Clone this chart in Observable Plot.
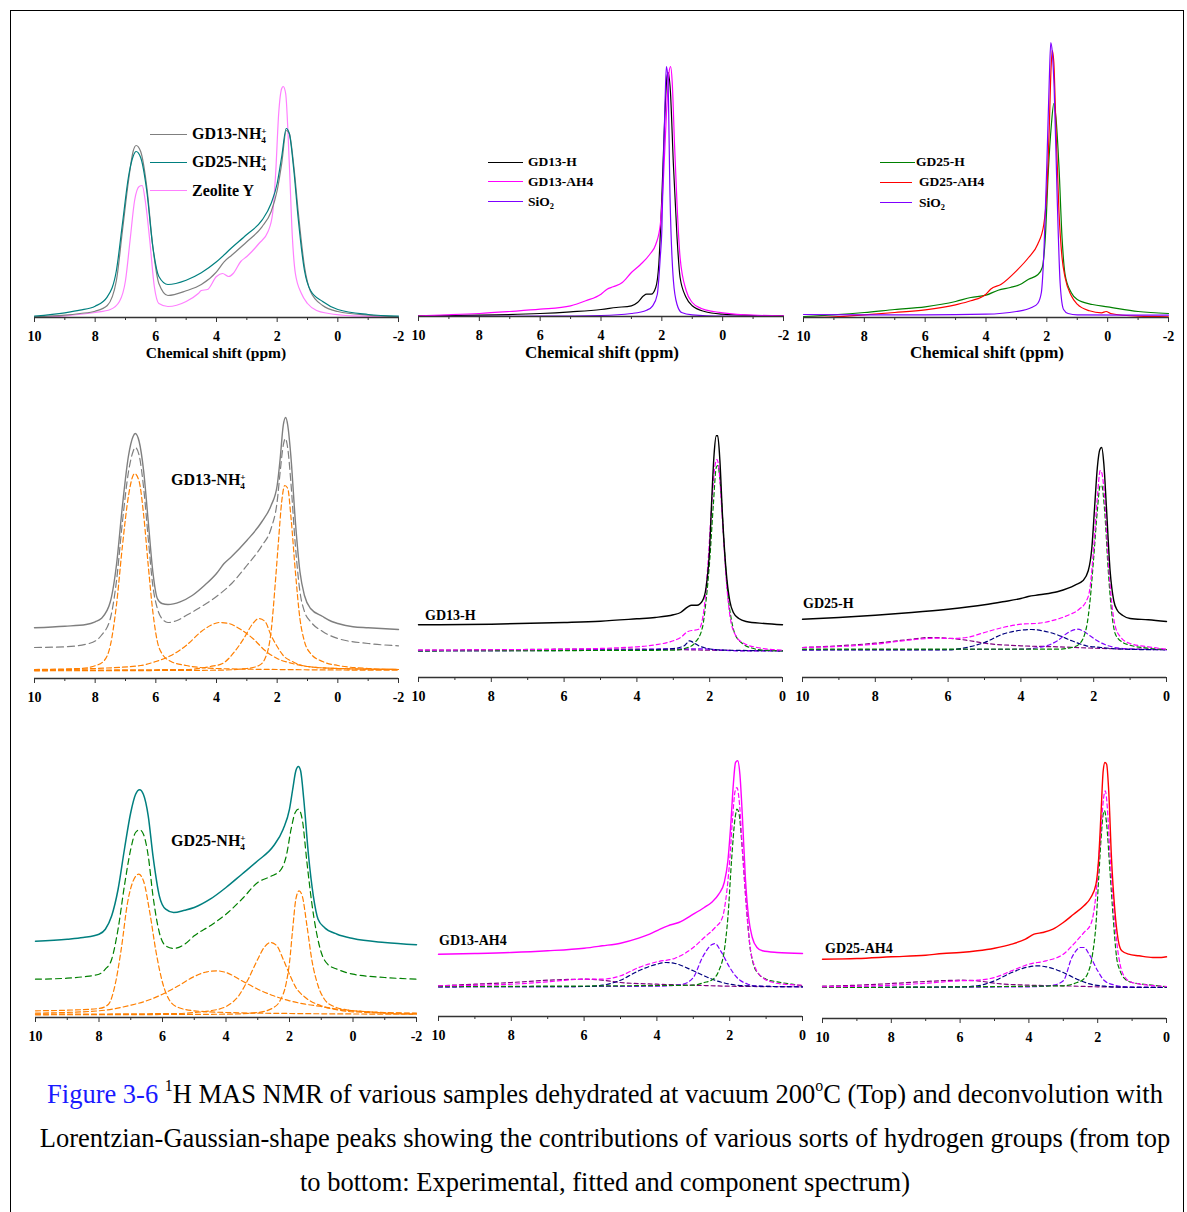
<!DOCTYPE html>
<html><head><meta charset="utf-8">
<script src="https://cdn.jsdelivr.net/npm/d3@7"></script>
<script src="https://cdn.jsdelivr.net/npm/@observablehq/plot@0.6"></script>
<style>
body{margin:0;background:#fff;}
#fig{position:relative;width:1187px;height:1212px;overflow:hidden;font-family:"Liberation Serif","Times New Roman",serif;color:#000;background:#fff;}
#frame{position:absolute;left:10px;top:10px;width:1174px;height:1230px;border:1px solid #000;box-sizing:border-box;}
.lbl{position:absolute;font-weight:bold;white-space:nowrap;line-height:1;transform:translateY(-50%);}
.st{display:inline-block;vertical-align:-0.42em;font-size:0.58em;line-height:1;}
.st>span{display:block;height:0.95em;}
.sb{font-size:0.62em;vertical-align:-0.3em;line-height:0;}
.lg{position:absolute;height:0;}
.ttl{position:absolute;font-weight:bold;white-space:nowrap;transform:translate(-50%,-50%);line-height:1;}
#cap{position:absolute;left:10px;width:1190px;top:1072px;text-align:center;font-size:26.5px;line-height:44px;white-space:nowrap;}
#cap sup{font-size:0.6em;line-height:0;vertical-align:0.75em;}
</style></head>
<body><div id="fig"><div id="frame"></div></div>
<script>
// ---------- data: [chemical shift (ppm), intensity (a.u.)] ----------
// Top row, panel 1
const A_gd13nh4 = [[10,0.7],[9,2.3],[8.5,4],[8,6.3],[7.6,12],[7.3,37],[7.1,87],[6.9,137],[6.75,166],[6.65,172],[6.5,166],[6.3,131],[6.1,71],[5.9,34],[5.6,22],[5,26.7],[4.5,33],[4,45.7],[3.75,55.7],[3.5,62.3],[3,75.7],[2.5,90.7],[2.2,105.7],[2,127],[1.85,154],[1.7,187],[1.6,184],[1.45,151],[1.3,104],[1.1,51],[0.9,26],[0.5,12],[0,6],[-1,2.3],[-2,0.7]];
const A_gd25nh4 = [[10,1.3],[9,4.7],[8.5,7.3],[8,11.3],[7.6,20.7],[7.3,47],[7.1,94],[6.9,141],[6.75,161],[6.65,166],[6.5,160],[6.3,127],[6.1,71],[5.9,41],[5.6,33],[5,37.3],[4.5,44.7],[4,55.7],[3.5,69.7],[3,83],[2.5,97.3],[2.2,114],[2,134],[1.85,161],[1.7,189],[1.6,184],[1.45,147],[1.3,97],[1.1,47],[0.9,27],[0.5,16],[0,8],[-1,3],[-2,1.3]];
const A_zeoliteY = [[10,0],[9,1.7],[8,5],[7.5,8],[7.2,16],[7,37],[6.85,77],[6.7,117],[6.55,131],[6.45,132],[6.35,117],[6.2,77],[6.05,31],[5.9,14],[5.6,11],[5,16],[4.6,24],[4.5,27],[4.3,28],[4,41],[3.8,44],[3.6,41],[3.45,44],[3.2,56],[3,61],[2.6,74],[2.3,86],[2.15,104],[2.05,144],[1.95,204],[1.85,229],[1.8,231],[1.72,224],[1.6,154],[1.5,81],[1.4,44],[1.2,24],[1,14],[0.7,7],[0.3,4],[-0.5,1.7],[-2,0.7]];
// Top row, panel 2
const B_gd13h = [[10,0.7],[8,1.3],[6,3],[5,4.7],[4,7],[3.5,9],[3,10.7],[2.8,14],[2.6,20.7],[2.5,22.3],[2.35,22.3],[2.2,29],[2.1,52],[2,119],[1.9,202],[1.83,240],[1.79,244],[1.72,226],[1.62,152],[1.5,79],[1.4,39],[1.2,19],[1,10.7],[0.6,5],[0,2.3],[-1,1],[-2,0.7]];
const B_gd13ah4 = [[10,0.7],[9,1.7],[8,3],[7,5],[6,7.3],[5,10.7],[4.5,15.7],[4,22.3],[3.8,27.3],[3.6,29.7],[3.3,34],[3,44],[2.7,52],[2.4,62],[2.2,72],[2.05,92],[1.95,136],[1.85,202],[1.76,245],[1.71,250],[1.66,235],[1.58,170],[1.5,112],[1.4,59],[1.2,26],[1,14],[0.7,8],[0.3,5],[0,3.7],[-1,1.3],[-2,0.7]];
const B_sio2 = [[10,0],[6,0.3],[4,1],[3,3],[2.5,6.3],[2.3,10.7],[2.15,22],[2.05,60],[2,86],[1.95,152],[1.89,219],[1.85,250],[1.8,238],[1.73,119],[1.62,36],[1.5,12],[1.35,4],[1,1.7],[0,0.3],[-2,0]];
// Top row, panel 3
const C_gd25h = [[10,1],[9,2.7],[8,5],[7,8],[6,10.7],[5,16],[4.5,20],[4,22.3],[3.6,27.3],[3.2,30],[2.9,32.7],[2.6,38.3],[2.3,42.7],[2.15,50],[2.05,80],[1.95,147],[1.85,193],[1.77,214],[1.7,200],[1.6,150],[1.5,80],[1.4,43],[1.2,25],[1,18],[0.5,13],[0,10.7],[-1,6],[-2,4]];
const C_gd25ah4 = [[10,0],[9,0.7],[8,2.7],[7,5],[6,7.7],[5,12.7],[4.5,16.7],[4,23.3],[3.85,28.3],[3.5,33.3],[3,46.7],[2.6,60],[2.3,73.3],[2.1,93],[2,127],[1.92,190],[1.86,250],[1.82,267],[1.77,255],[1.7,190],[1.6,105],[1.5,60],[1.4,40],[1.2,22],[1,13.3],[0.6,6.7],[0.2,4.7],[0.05,6],[-0.1,4],[-1,1.3],[-2,0.7]];
const C_sio2 = [[10,3],[8,2.7],[6,2.7],[4,3.3],[3,6],[2.5,10],[2.3,14],[2.18,25],[2.09,70],[2,153],[1.92,237],[1.87,275],[1.82,265],[1.76,230],[1.66,120],[1.56,33],[1.45,8],[1.3,4],[1,2.7],[-2,2.3]];
// Middle row, panel 1 (GD13-NH4+)
const D_exp = [[10,50.7],[9,52.3],[8.3,54],[8,56.7],[7.8,60],[7.5,76.7],[7.3,113],[7.1,173],[6.9,223],[6.75,242],[6.68,245],[6.55,237],[6.4,207],[6.25,157],[6.1,107],[5.95,80],[5.8,75],[5.6,74],[5.2,76.7],[4.8,83],[4.4,93],[4,105],[3.75,115],[3.5,122],[3,138],[2.5,157],[2.2,173],[2,193],[1.9,220],[1.8,253],[1.72,261],[1.65,253],[1.55,223],[1.4,157],[1.25,107],[1.1,83],[0.9,70],[0.5,62],[0.2,57],[0,55],[-0.5,51.7],[-1,50.7],[-2,49]];
const D_fit = [[10,31],[9,31.7],[8.2,35],[7.8,43],[7.5,60],[7.3,97],[7.1,157],[6.9,207],[6.75,227],[6.68,231],[6.55,223],[6.4,190],[6.25,140],[6.1,93],[5.95,70],[5.8,60],[5.6,56],[5.3,58],[5,63],[4.6,70],[4,82],[3.5,95],[3,113],[2.5,133],[2.2,150],[2,177],[1.9,207],[1.8,233],[1.73,240],[1.65,230],[1.55,197],[1.4,133],[1.25,87],[1.1,67],[0.9,57],[0.5,47],[0,40],[-1,35],[-2,32.7]];
const D_c1 = [[10,9],[8.5,10],[8,12.7],[7.7,18],[7.5,33],[7.3,73],[7.1,133],[6.9,183],[6.75,203],[6.7,205],[6.55,197],[6.4,163],[6.25,113],[6.1,67],[5.95,37],[5.8,25],[5.5,17],[5,13],[4,10],[2,9],[-2,8.3]];
const D_c2 = [[10,8.3],[8,10],[6.5,13],[6,17],[5.5,23],[5,33],[4.5,47],[4.2,53],[3.9,56],[3.6,55],[3.2,49],[2.8,40],[2.4,28],[2,20],[1.5,15],[1,12],[0,10],[-2,9]];
const D_c3 = [[10,8.3],[5,9],[4.2,12],[3.8,15],[3.4,27],[3.1,40],[2.8,55],[2.6,60],[2.4,57],[2.2,43],[2,32],[1.8,23],[1.5,17],[1,12],[0,10],[-2,9]];
const D_c4 = [[10,7.7],[4,8.3],[3,10],[2.6,13],[2.4,20],[2.2,47],[2.05,100],[1.95,140],[1.85,177],[1.75,193],[1.65,190],[1.55,163],[1.4,107],[1.25,60],[1.1,37],[0.9,25],[0.5,17],[0,13],[-1,10],[-2,9]];
// Middle row, panel 2 (GD13-H)
const E_exp = [[10,52.7],[8,53.3],[6,55],[5,56.3],[4,58.7],[3.5,60],[3,62.7],[2.8,65],[2.6,70.7],[2.5,72.3],[2.35,72.3],[2.2,76.7],[2.1,90],[2,130],[1.95,173],[1.88,223],[1.82,241.7],[1.78,241.7],[1.72,217],[1.65,163],[1.55,107],[1.45,77],[1.35,65],[1.2,59],[1,56],[0.5,54],[0,52.7]];
const E_fit = [[10,27.3],[8,27.7],[6,28.3],[4,30.7],[3.5,32.7],[3,36.7],[2.8,40],[2.6,46],[2.3,48.3],[2.15,70],[2.05,113],[1.95,170],[1.85,213],[1.8,218],[1.75,210],[1.65,157],[1.55,100],[1.45,63],[1.3,43],[1.1,35],[0.7,30],[0,27.3]];
const E_main = [[10,26.7],[3,27.3],[2.6,30],[2.4,35],[2.2,50],[2.1,77],[2,117],[1.9,173],[1.82,210],[1.78,212],[1.7,190],[1.6,130],[1.5,83],[1.4,57],[1.3,43],[1.1,34],[0.8,29],[0.5,27.3],[0,26.7]];
const E_c2 = [[10,26.7],[4,27.3],[3,29],[2.7,31.7],[2.55,36.7],[2.45,35],[2.3,31.7],[2.1,29.3],[1.8,27.7],[1.5,27.3],[0,26.7]];
const E_c3 = [[10,26.7],[6,27.3],[4,28],[3,28.7],[2.2,28.7],[1.8,27.7],[1.2,26.7],[0,26.7]];
const E_c4 = [[10,27.3],[8,27.7],[6,28.3],[4,28.3],[3,28],[2,27.3],[0,26.7]];
// Middle row, panel 3 (GD25-H)
const F_exp = [[10,58.3],[9,60],[8,62.3],[7,65],[6,68.3],[5,72.7],[4.5,75.7],[4,79],[3.8,81],[3.5,82.7],[3,85.7],[2.7,89.3],[2.5,92.7],[2.3,96.7],[2.15,106.7],[2.05,130],[1.97,173],[1.9,210],[1.83,228],[1.78,230],[1.72,213],[1.65,170],[1.55,107],[1.45,77],[1.35,67],[1.2,62],[1,59],[0.5,57.7],[0,56]];
const F_fit = [[10,30],[9,31],[8,33.3],[7,37.7],[6.3,39.3],[6,39],[5.5,40],[5,45],[4.5,50],[4,53.3],[3.5,54.3],[3,58.3],[2.7,62.3],[2.4,68.3],[2.2,76.7],[2.1,90],[2,130],[1.9,180],[1.82,207],[1.78,205],[1.7,180],[1.6,117],[1.5,73],[1.4,50],[1.25,40],[1,34],[0.5,30.7],[0,28.3]];
const F_main = [[10,28.3],[3,28.3],[2.6,30],[2.4,33.3],[2.2,50],[2.1,77],[2,120],[1.9,167],[1.82,192],[1.78,192],[1.7,167],[1.6,107],[1.5,63],[1.4,43],[1.2,35],[1,32.3],[0.5,29.3],[0,28]];
const F_c2 = [[10,27.7],[6,27.7],[5.5,30],[5,35],[4.5,43.3],[4,47.3],[3.7,48],[3.4,46.7],[3,42.7],[2.6,36.7],[2.2,31.7],[1.8,30],[1.2,28.3],[0,27.7]];
const F_c3 = [[10,27.7],[4,28.3],[3.3,31.7],[3,36.7],[2.7,45],[2.45,48.3],[2.3,46.7],[2.1,41.7],[1.9,36.7],[1.6,31.7],[1.2,29],[0,27.7]];
const F_c4 = [[10,30],[9,31.7],[8,34.3],[7,38.3],[6.5,40],[6,39.3],[5.5,37.3],[5,34.3],[4,31.7],[3,30.7],[2,29.3],[0,28]];
// Bottom row, panel 1 (GD25-NH4+)
const G_exp = [[10,76.3],[9,78.3],[8.5,80],[8,83.3],[7.8,88.3],[7.6,101.7],[7.4,128],[7.2,168],[7,205],[6.85,223],[6.72,227.7],[6.6,223],[6.45,201.7],[6.3,161.7],[6.1,121.7],[5.9,108.3],[5.65,105],[5.3,107.3],[5,110],[4.5,118.3],[4,130],[3.5,143.3],[3,156.7],[2.5,171.7],[2.2,188.3],[2,208.3],[1.9,228],[1.8,246.7],[1.72,251],[1.65,246.7],[1.55,218],[1.4,161.7],[1.25,121.7],[1.1,98.3],[0.9,90],[0.5,83.3],[0,79],[-1,75],[-2,72.7]];
const G_fit = [[10,38.3],[9,39.3],[8.5,40.7],[8,43.3],[7.8,48.3],[7.6,58.3],[7.4,88.3],[7.2,131.7],[7,168.3],[6.85,185],[6.72,187.7],[6.6,183.3],[6.45,161.7],[6.3,121.7],[6.1,85],[5.9,71.7],[5.65,69],[5.3,73.3],[5,81.7],[4.5,91.7],[4,103.3],[3.5,118.3],[3,135],[2.6,141],[2.3,146.7],[2.1,161.7],[1.95,188.3],[1.82,205],[1.72,208.3],[1.6,198.3],[1.45,155],[1.3,115],[1.15,85],[1,65],[0.8,53.3],[0.5,48.3],[0,43.3],[-1,40],[-2,38.3]];
const G_c1 = [[10,6.7],[9,7.3],[8,9],[7.7,13.3],[7.5,31.7],[7.3,68.3],[7.1,115],[6.9,138.3],[6.75,143.3],[6.6,136.7],[6.4,105],[6.2,65],[6,35],[5.8,18.3],[5.5,10],[5,6.7],[4,5],[2,4],[-2,3.3]];
const G_c2 = [[10,4.3],[8,6.7],[7,12.3],[6.5,16.7],[6,23.3],[5.5,31.7],[5,41],[4.6,45.7],[4.3,46.7],[4,45],[3.5,36.7],[3,28.3],[2.5,21.7],[2,16.7],[1.5,13.3],[1,11],[0.5,8.3],[0,6.7],[-1,5],[-2,4.3]];
const G_c3 = [[10,3.3],[5.5,4],[5,5],[4.5,6.7],[4,11],[3.6,21.7],[3.3,38.3],[3,58.3],[2.8,70],[2.6,75],[2.4,71.7],[2.2,58.3],[2,43.3],[1.8,30],[1.5,20],[1,11.7],[0.5,7.7],[0,5.7],[-2,4]];
const G_c4 = [[10,2.7],[4,3.3],[3,5],[2.5,10],[2.3,16.7],[2.1,35],[2,55],[1.9,88.3],[1.8,118.3],[1.7,126.7],[1.6,121.7],[1.45,91.7],[1.3,58.3],[1.1,31.7],[0.9,18.3],[0.6,11],[0.2,7.7],[-0.5,5.7],[-1,4.3],[-2,3.3]];
// Bottom row, panel 2 (GD13-AH4)
const H_exp = [[10,62.3],[9,63],[8,64],[7,65.7],[6,68.3],[5.5,70.7],[5,73.3],[4.5,78.3],[4.2,82.3],[3.95,86.7],[3.7,90.7],[3.4,94],[3,102.3],[2.7,109],[2.5,114],[2.3,122.3],[2.15,134],[2.05,155.7],[1.97,192.3],[1.9,232.3],[1.84,254],[1.78,255.7],[1.72,242.3],[1.65,199],[1.57,139],[1.48,99],[1.38,79],[1.25,69],[1.1,65.7],[0.7,64],[0,63]];
const H_fit = [[10,30.7],[8,32.3],[7,34.7],[6,37.3],[5.5,37.3],[5,40.7],[4.5,49],[4,54.7],[3.5,58.3],[3,69],[2.7,79],[2.4,89],[2.2,99],[2.1,119],[2,155.7],[1.92,199],[1.85,225.7],[1.8,229],[1.73,212.3],[1.65,165.7],[1.55,112.3],[1.45,72.3],[1.3,49],[1.1,39],[0.8,34],[0.5,32.3],[0,31.3]];
const H_main = [[10,30],[3,31.3],[2.7,34],[2.5,36.3],[2.3,45.7],[2.15,65.7],[2.05,99],[1.95,155.7],[1.85,199],[1.8,207.3],[1.75,204],[1.65,165.7],[1.55,115.7],[1.45,72.3],[1.35,52.3],[1.2,42.3],[1,37.3],[0.7,34.7],[0.3,32.3],[0,30.7]];
const H_c2 = [[10,29.7],[6,30],[5.5,31.3],[5,36.3],[4.5,45.7],[4,52.3],[3.75,54],[3.5,53],[3,45.7],[2.6,39],[2.2,34],[1.8,31.3],[1.2,30.3],[0,29.7]];
const H_c3 = [[10,29.7],[4,30.3],[3.3,32.3],[3,39],[2.75,59],[2.5,71.7],[2.4,73],[2.25,65.7],[2,49],[1.8,39],[1.5,32.3],[1.2,30.3],[0,29.7]];
const H_c4 = [[10,30.7],[9,32.3],[8,34],[7,36.3],[6,37.3],[5.5,36.3],[5,34],[4,32.3],[3,31.3],[2,30.3],[0,29.7]];
// Bottom row, panel 3 (GD25-AH4)
const I_exp = [[10,59.3],[9,60],[8,61.7],[7,63.3],[6.5,65],[6,66],[5.5,67.7],[5,70.3],[4.5,74.3],[4.1,79.3],[3.85,84.3],[3.6,86],[3.3,89.3],[3,96],[2.7,104.3],[2.4,112.7],[2.2,121],[2.05,134.3],[1.97,161],[1.9,207.7],[1.84,247.7],[1.79,256],[1.74,254.3],[1.68,227.7],[1.6,161],[1.5,107.7],[1.4,77.7],[1.3,67.7],[1.1,64.3],[0.8,62.7],[0.4,61],[0.15,61],[0,61.7]];
const I_fit = [[10,31.7],[8,33.3],[7,35.3],[6,37.7],[5.5,38.3],[5,41],[4.5,47.7],[4,54.3],[3.5,57.7],[3,64.3],[2.7,74.3],[2.4,86],[2.2,94.3],[2.05,124.3],[1.95,167.7],[1.88,201],[1.82,222.7],[1.78,227.7],[1.72,211],[1.65,167.7],[1.55,117.7],[1.45,77.7],[1.35,54.3],[1.2,41],[1,36],[0.5,33.3],[0,32]];
const I_main = [[10,31],[3,32.7],[2.6,36],[2.45,38.3],[2.3,44.3],[2.15,64.3],[2.05,94.3],[1.97,141],[1.9,181],[1.84,204.3],[1.8,207.7],[1.74,194.3],[1.65,151],[1.55,101],[1.45,61],[1.35,47.7],[1.2,39.3],[1,36],[0.5,33.7],[0,31.7]];
const I_c2 = [[10,31],[6,31.7],[5.5,32.7],[5,37.7],[4.5,46],[4,51.7],[3.75,52.7],[3.5,51.7],[3,46],[2.6,39.3],[2.2,34.3],[1.8,32.3],[1.2,31.3],[0,31]];
const I_c3 = [[10,31],[4,31.7],[3.3,33.3],[3,37.7],[2.75,61],[2.5,71],[2.4,71],[2.25,64.3],[2,47.7],[1.8,37.7],[1.5,33.3],[1.2,31.7],[0,31]];
const I_c4 = [[10,32.3],[9,33.3],[8,35],[7,37],[6,38.3],[5.5,37.7],[5,35.3],[4,33.3],[3,32.7],[2,31.7],[0,31]];

// tick values
const ticksFull = [10, 8, 6, 4, 2, 0, -2];
const minorFull = [9, 7, 5, 3, 1, -1];
const ticksHalf = [10, 8, 6, 4, 2, 0];
const minorHalf = [9, 7, 5, 3, 1];

// ---------- drawing ----------
const fig = document.getElementById("fig");
const C = {gray:"#7f7f7f", teal:"#007f7f", pink:"#ff7fff", black:"#000", mag:"#ff00ff", vio:"#7f00ff",
  green:"#008000", red:"#ff0000", orange:"#ff7f00", navy:"#00007f", plum:"#800080"};

function panel(p) {
  const ml = 22, mr = 22, mb = 44;
  const width = (p.x1 - p.x0) + ml + mr;
  const height = p.D + mb;
  const marks = [];
  for (const c of p.curves) {
    marks.push(Plot.line(c.data, {x: d => d[0], y: d => d[1], stroke: c.color,
      strokeWidth: c.w || 1.2, strokeDasharray: c.dash || null, curve: "monotone-x"}));
  }
  marks.push(Plot.ruleY([0], {stroke: "#333", strokeWidth: 1.3}));
  marks.push(Plot.axisX({ticks: p.ticks, tickSize: 5, tickPadding: 9, tickFormat: d => String(d), label: null, stroke: "#333"}));
  marks.push(Plot.axisX({ticks: p.minor, tickSize: 3, tickFormat: () => "", label: null, stroke: "#333"}));
  const svg = Plot.plot({width, height, marginLeft: ml, marginRight: mr, marginTop: 0, marginBottom: mb,
    x: {domain: p.domain}, y: {domain: [0, p.D], axis: null},
    style: {fontFamily: "'Liberation Serif','Times New Roman',serif", fontSize: "14px", fontWeight: "bold",
      color: "#000", background: "transparent", overflow: "visible"},
    marks});
  svg.style.position = "absolute";
  svg.style.left = (p.x0 - ml) + "px";
  svg.style.top = (p.axisY - p.D) + "px";
  fig.appendChild(svg);
}

function html(cls, x, y, inner, extra) {
  const d = document.createElement("div");
  d.className = cls; d.style.left = x + "px"; d.style.top = y + "px";
  d.innerHTML = inner; if (extra) Object.assign(d.style, extra);
  fig.appendChild(d);
}
function legLine(x0, x1, y, color) {
  const d = document.createElement("div");
  d.className = "lg";
  Object.assign(d.style, {left: x0 + "px", top: (y - 0.75) + "px", width: (x1 - x0) + "px", borderTop: "1.5px solid " + color});
  fig.appendChild(d);
}
const NH4 = 'NH<span class="st"><span>+</span><span>4</span></span>';

const full = [10, -2], half = [10, 0];
const dG = "7,4", dO = "5,3", dS = "4,3";

// Top row
panel({x0: 34, x1: 398, axisY: 317, D: 290, domain: full, ticks: ticksFull, minor: minorFull, curves: [
  {data: A_zeoliteY, color: C.pink}, {data: A_gd13nh4, color: C.gray}, {data: A_gd25nh4, color: C.teal}]});
panel({x0: 418, x1: 783, axisY: 316, D: 290, domain: full, ticks: ticksFull, minor: minorFull, curves: [
  {data: B_gd13h, color: C.black}, {data: B_gd13ah4, color: C.mag}, {data: B_sio2, color: C.vio}]});
panel({x0: 803, x1: 1168, axisY: 317, D: 290, domain: full, ticks: ticksFull, minor: minorFull, curves: [
  {data: C_gd25h, color: C.green}, {data: C_gd25ah4, color: C.red}, {data: C_sio2, color: C.vio}]});

// Middle row
panel({x0: 34, x1: 398, axisY: 678, D: 272, domain: full, ticks: ticksFull, minor: minorFull, curves: [
  {data: D_c1, color: C.orange, dash: dO}, {data: D_c2, color: C.orange, dash: dO},
  {data: D_c3, color: C.orange, dash: dO}, {data: D_c4, color: C.orange, dash: dO},
  {data: D_fit, color: C.gray, dash: dG}, {data: D_exp, color: C.gray, w: 1.4}]});
panel({x0: 418, x1: 782, axisY: 677, D: 272, domain: half, ticks: ticksHalf, minor: minorHalf, curves: [
  {data: E_c4, color: C.plum, dash: dS}, {data: E_c3, color: C.vio, dash: dS}, {data: E_c2, color: C.navy, dash: dS},
  {data: E_main, color: C.green, dash: dS}, {data: E_fit, color: C.mag, dash: dS}, {data: E_exp, color: C.black, w: 1.4}]});
panel({x0: 802, x1: 1166, axisY: 677, D: 272, domain: half, ticks: ticksHalf, minor: minorHalf, curves: [
  {data: F_c4, color: C.plum, dash: dS}, {data: F_c3, color: C.vio, dash: dS}, {data: F_c2, color: C.navy, dash: dS},
  {data: F_main, color: C.green, dash: dS}, {data: F_fit, color: C.mag, dash: dS}, {data: F_exp, color: C.black, w: 1.4}]});

// Bottom row
panel({x0: 35, x1: 416, axisY: 1017, D: 264, domain: full, ticks: ticksFull, minor: minorFull, curves: [
  {data: G_c1, color: C.orange, dash: dO}, {data: G_c2, color: C.orange, dash: dO},
  {data: G_c3, color: C.orange, dash: dO}, {data: G_c4, color: C.orange, dash: dO},
  {data: G_fit, color: C.green, dash: "6,4"}, {data: G_exp, color: C.teal, w: 1.5}]});
panel({x0: 438, x1: 802, axisY: 1016, D: 264, domain: half, ticks: ticksHalf, minor: minorHalf, curves: [
  {data: H_c4, color: C.plum, dash: dS}, {data: H_c3, color: C.vio, dash: dS}, {data: H_c2, color: C.navy, dash: dS},
  {data: H_main, color: C.green, dash: dS}, {data: H_fit, color: C.mag, dash: dS}, {data: H_exp, color: C.mag, w: 1.4}]});
panel({x0: 822, x1: 1166, axisY: 1018, D: 264, domain: half, ticks: ticksHalf, minor: minorHalf, curves: [
  {data: I_c4, color: C.plum, dash: dS}, {data: I_c3, color: C.vio, dash: dS}, {data: I_c2, color: C.navy, dash: dS},
  {data: I_main, color: C.green, dash: dS}, {data: I_fit, color: C.mag, dash: dS}, {data: I_exp, color: C.red, w: 1.4}]});

// axis titles
html("ttl", 216, 353, "Chemical shift (ppm)", {fontSize: "15.5px"});
html("ttl", 602, 352, "Chemical shift (ppm)", {fontSize: "17px"});
html("ttl", 987, 352, "Chemical shift (ppm)", {fontSize: "17px"});

// legends
legLine(150, 187, 135, C.gray); legLine(150, 187, 163, C.teal); legLine(150, 187, 191, C.pink);
html("lbl", 192, 135, "GD13-" + NH4, {fontSize: "16px"});
html("lbl", 192, 163, "GD25-" + NH4, {fontSize: "16px"});
html("lbl", 192, 191, "Zeolite Y", {fontSize: "16px"});
legLine(488, 523, 163, C.black); legLine(488, 523, 182, C.mag); legLine(488, 523, 202, C.vio);
html("lbl", 528, 162, "GD13-H", {fontSize: "13.5px"});
html("lbl", 528, 182, "GD13-AH4", {fontSize: "13.5px"});
html("lbl", 528, 202, 'SiO<span class="sb">2</span>', {fontSize: "13.5px"});
legLine(880, 915, 163, C.green); legLine(880, 912, 183, C.red); legLine(880, 912, 203, C.vio);
html("lbl", 916, 162, "GD25-H", {fontSize: "13.5px"});
html("lbl", 919, 182, "GD25-AH4", {fontSize: "13.5px"});
html("lbl", 919, 203, 'SiO<span class="sb">2</span>', {fontSize: "13.5px"});

// panel labels
html("lbl", 171, 481, "GD13-" + NH4, {fontSize: "16px"});
html("lbl", 425, 616, "GD13-H", {fontSize: "14px"});
html("lbl", 803, 604, "GD25-H", {fontSize: "14px"});
html("lbl", 171, 842, "GD25-" + NH4, {fontSize: "16px"});
html("lbl", 439, 941, "GD13-AH4", {fontSize: "14px"});
html("lbl", 825, 949, "GD25-AH4", {fontSize: "14px"});

// caption
const cap = document.createElement("div");
cap.id = "cap";
cap.innerHTML = '<span style="color:#1a1aff">Figure 3-6</span> <sup>1</sup>H MAS NMR of various samples dehydrated at vacuum 200<sup>o</sup>C (Top) and deconvolution with<br>' +
  'Lorentzian-Gaussian-shape peaks showing the contributions of various sorts of hydrogen groups (from top<br>' +
  'to bottom: Experimental, fitted and component spectrum)';
fig.appendChild(cap);
</script>
</body></html>
